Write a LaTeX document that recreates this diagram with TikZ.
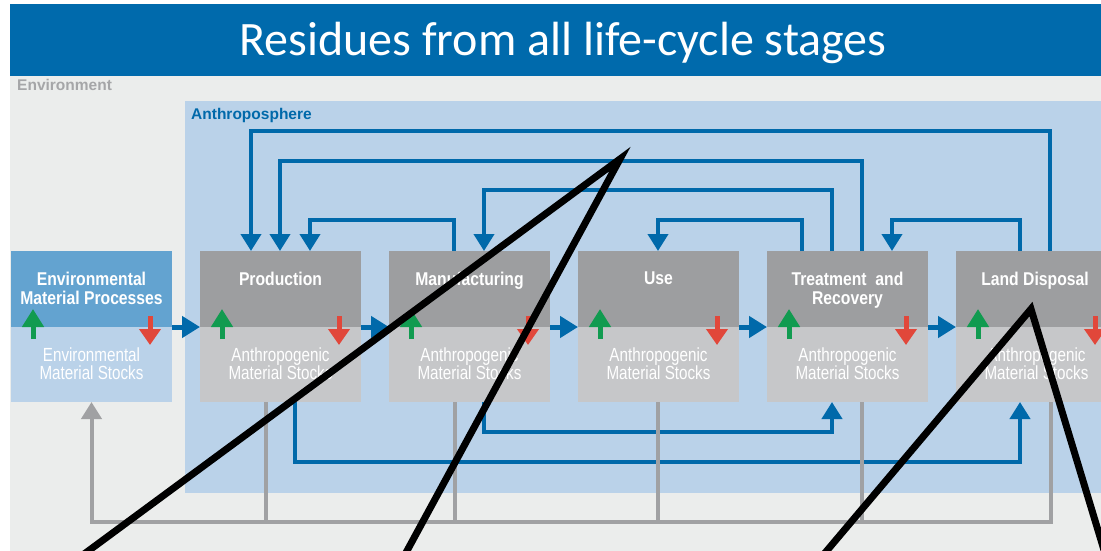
\documentclass[tikz,border=0pt]{standalone}
\usepackage{fontspec}
\setmainfont{Liberation Sans}
\newfontfamily\titlefont{Carlito}
\newfontfamily\lblfont[FakeStretch=0.85]{Liberation Sans}
\newfontfamily\stockfont[FakeStretch=0.8]{Liberation Sans}
\usetikzlibrary{arrows.meta}
\definecolor{titleblue}{HTML}{006AAC}
\definecolor{envbg}{HTML}{EBEDEC}
\definecolor{anthro}{HTML}{BAD2E9}
\definecolor{envproc}{HTML}{63A3D0}
\definecolor{boxgrey}{HTML}{9D9EA0}
\definecolor{stockgrey}{HTML}{C6C7C9}
\definecolor{flowblue}{HTML}{0069AA}
\definecolor{upgreen}{HTML}{119B50}
\definecolor{downred}{HTML}{E1473A}
\definecolor{linegrey}{HTML}{A0A1A3}
\definecolor{envtext}{HTML}{A5A6A8}
\tikzset{
  boxbase/.style={inner sep=0pt, outer sep=0pt, minimum width=161pt, anchor=north west},
  topbox/.style={boxbase, fill=boxgrey, minimum height=76pt},
  stockbox/.style={boxbase, fill=stockgrey, minimum height=75pt},
  envtop/.style={boxbase, fill=envproc, minimum height=76pt},
  envstock/.style={boxbase, fill=anthro, minimum height=75pt},
  lbl/.style={anchor=north, inner sep=0pt, text=white, align=center,
    font=\lblfont\bfseries\fontsize{18.5}{19}\selectfont},
  stocklbl/.style={anchor=north, inner sep=0pt, text=white, align=center,
    font=\stockfont\fontsize{19}{18}\selectfont},
  flow/.style={draw=flowblue, line width=5pt, -{Triangle[length=18pt,width=21pt]}},
  fb/.style={draw=flowblue, line width=4pt, -{Triangle[length=17pt,width=20pt]}},
  greyline/.style={draw=linegrey, line width=4pt},
  greyarr/.style={greyline, -{Triangle[length=17pt,width=20pt]}},
  uparr/.style={draw=upgreen, line width=5pt, -{Triangle[length=18pt,width=21pt]}},
  downarr/.style={draw=downred, line width=5pt, -{Triangle[length=16pt,width=21pt]}},
  annot/.style={draw=black, line width=7pt, line join=miter},
}
\begin{document}
\begin{tikzpicture}[x=1pt,y=-1pt]
\useasboundingbox (0,0) rectangle (1101,551);
\fill[white] (0,0) rectangle (1101,551);
% backgrounds
\node[inner sep=0pt, outer sep=0pt, fill=envbg, minimum width=1091pt, minimum height=475pt, anchor=north west] (env) at (10,76) {};
\node[inner sep=0pt, outer sep=0pt, fill=titleblue, minimum width=1091pt, minimum height=72pt, anchor=north west] (bar) at (10,4) {};
\node[anchor=base, inner sep=0pt, text=white, font=\titlefont\fontsize{48}{52}\selectfont] (title) at (563,56) {Residues from all life-cycle stages};
\node[anchor=base west, inner sep=0pt, text=envtext, font=\bfseries\fontsize{15.5}{17}\selectfont] (envlabel) at (17,91) {Environment};
\node[inner sep=0pt, outer sep=0pt, fill=anthro, minimum width=916pt, minimum height=392pt, anchor=north west] (anthro) at (185,101) {};
\node[anchor=base west, inner sep=0pt, text=flowblue, font=\bfseries\fontsize{15.5}{17}\selectfont] (anthrolabel) at (191,120) {Anthroposphere};

% boxes
\node[envtop] (envT) at (11,251) {};
\node[envstock] (envS) at (11,327) {};
\node[topbox] (prodT) at (200,251) {};
\node[stockbox] (prodS) at (200,327) {};
\node[topbox] (manuT) at (389,251) {};
\node[stockbox] (manuS) at (389,327) {};
\node[topbox] (useT) at (578,251) {};
\node[stockbox] (useS) at (578,327) {};
\node[topbox] (treatT) at (767,251) {};
\node[stockbox] (treatS) at (767,327) {};
\node[topbox] (landT) at (956,251) {};
\node[stockbox] (landS) at (956,327) {};

% labels
\node[lbl] (envL) at (91.5,271.7) {Environmental\\Material Processes};
\node[lbl] (prodL) at (280.5,271.7) {Production};
\node[lbl] (manuL) at (469.5,271.7) {Manufacturing};
\node[lbl] (useL) at (658.5,271.7) {Use};
\node[lbl] (treatL) at (847.5,271.7) {Treatment\ \ and\\Recovery};
\node[lbl] (landL) at (1035,271.7) {Land Disposal};

\node[stocklbl] (envSL) at (91.5,347.4) {Environmental\\Material Stocks};
\node[stocklbl] (prodSL) at (280.5,347.4) {Anthropogenic\\Material Stocks};
\node[stocklbl] (manuSL) at (469.5,347.4) {Anthropogenic\\Material Stocks};
\node[stocklbl] (useSL) at (658.5,347.4) {Anthropogenic\\Material Stocks};
\node[stocklbl] (treatSL) at (847.5,347.4) {Anthropogenic\\Material Stocks};
\node[stocklbl] (landSL) at (1036.5,347.4) {Anthropogenic\\Material Stocks};

% up / down arrows
\foreach \b in {envT,prodT,manuT,useT,treatT,landT}{
  \draw[uparr] ([xshift=22pt,yshift=-12pt]\b.south west) -- ++(0,-30);
  \draw[downarr] ([xshift=139pt,yshift=11pt]\b.south west) -- ++(0,29);
}

% forward flows
\draw[flow] (envT.south east) -- (prodT.south west);
\draw[flow] (prodT.south east) -- (manuT.south west);
\draw[flow] (manuT.south east) -- (useT.south west);
\draw[flow] (useT.south east) -- (treatT.south west);
\draw[flow] (treatT.south east) -- (landT.south west);

% feedback flows (top)
\draw[fb] ([xshift=94pt]landT.north west) -- ++(0,-120) -| ([xshift=51pt]prodT.north west);
\draw[fb] ([xshift=95pt]treatT.north west) -- ++(0,-90) -| ([xshift=80pt]prodT.north west);
\draw[fb] ([xshift=65pt]treatT.north west) -- ++(0,-61) -| ([xshift=95pt]manuT.north west);
\draw[fb] ([xshift=65pt]manuT.north west) -- ++(0,-31) -| ([xshift=110pt]prodT.north west);
\draw[fb] ([xshift=35pt]treatT.north west) -- ++(0,-31) -| ([xshift=80pt]useT.north west);
\draw[fb] ([xshift=64pt]landT.north west) -- ++(0,-31) -| ([xshift=125pt]treatT.north west);

% bottom flows
\draw[fb] ([xshift=95pt]prodS.south west) -- ++(0,60) -| ([xshift=64pt]landS.south west);
\draw[fb] ([xshift=95pt]manuS.south west) -- ++(0,30) -| ([xshift=65pt]treatS.south west);

% grey returns to environment
\draw[greyline] ([xshift=66pt]prodS.south west) -- ++(0,120);
\draw[greyline] ([xshift=66pt]manuS.south west) -- ++(0,120);
\draw[greyline] ([xshift=80pt]useS.south west) -- ++(0,120);
\draw[greyline] ([xshift=95pt]treatS.south west) -- ++(0,120);
\draw[greyarr] ([xshift=95pt]landS.south west) -- ++(0,120) -| (envS.south);

% black annotation lines
\coordinate (apexA) at (620,159);
\coordinate (a1) at (76,560);
\coordinate (a2) at (402,560);
\coordinate (apexB) at (1031,309);
\coordinate (b1) at (819,560);
\coordinate (b2) at (1107,560);
\draw[annot] (a1) -- (apexA) -- (a2);
\draw[annot] (b1) -- (apexB) -- (b2);
\end{tikzpicture}
\end{document}
